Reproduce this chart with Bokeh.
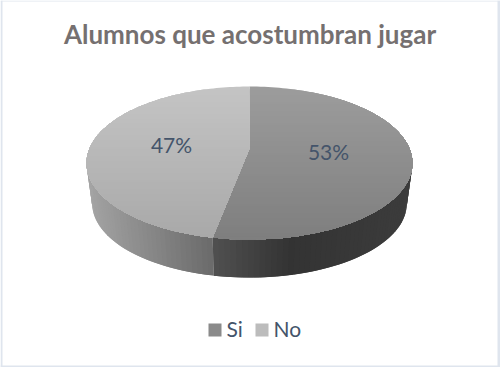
import math
from bokeh.plotting import figure
from bokeh.core.properties import value
from bokeh.embed import file_html
from bokeh.resources import INLINE

title = "Alumnos que acostumbran jugar"
categories = ["Si", "No"]
values = [53, 47]
labels = ["53%", "47%"]
label_x = [328, 171]
label_y = [151, 144]
top_colors = [((0x9c, 0x9c, 0x9c), (0x7e, 0x7e, 0x7e)), ((0xc4, 0xc4, 0xc4), (0xa8, 0xa8, 0xa8))]
legend_colors = ["#8a8a8a", "#bcbcbc"]
text_color = "#44546a"
title_color = "#757070"

# pie geometry in page pixels
CX, APEX_Y, R, S, A = 249.0, 148.0, 160.0, 73.75, 0.19
BASE_SCALE, BASE_APEX_Y = 0.965, 189.2


def top_pt(phi):
    u, v = math.sin(phi), math.cos(phi)
    w = 1 + A * v
    return CX + R * u / w, APEX_Y - S * v / w


def base_pt(phi):
    u, v = math.sin(phi), math.cos(phi)
    w = 1 + A * v
    return CX + BASE_SCALE * R * u / w, BASE_APEX_Y - BASE_SCALE * S * v / w


def lerp(c0, c1, t):
    return tuple(round(a + (b - a) * t) for a, b in zip(c0, c1))


def hexc(c):
    return "#%02x%02x%02x" % c


def clip_below(poly, y0):
    """Keep the part of a polygon with y >= y0."""
    out = []
    for i, (x1, y1) in enumerate(poly):
        x2, y2 = poly[(i + 1) % len(poly)]
        if y1 >= y0:
            out.append((x1, y1))
        if (y1 >= y0) != (y2 >= y0):
            t = (y0 - y1) / (y2 - y1)
            out.append((x1 + (x2 - x1) * t, y0))
    return out


p = figure(width=500, height=367, x_range=(0, 500), y_range=(367, 0),
           output_backend="svg", toolbar_location=None, min_border=0,
           outline_line_color=None, background_fill_color="white")
p.axis.visible = False
p.grid.visible = False

total = sum(values)
split = 2 * math.pi * values[0] / total

# side wall
SIDE_STOPS = [(86, (0xa4, 0xa4, 0xa4)), (213, (0x6a, 0x6a, 0x6a))]
SIDE_STOPS_R = [(213, (0x50, 0x50, 0x50)), (290, (0x33, 0x33, 0x33)), (412, (0x3c, 0x3c, 0x3c))]


def side_color(x, phi):
    stops = SIDE_STOPS_R if phi < split else SIDE_STOPS
    if x <= stops[0][0]:
        return stops[0][1]
    for (x0, c0), (x1, c1) in zip(stops, stops[1:]):
        if x <= x1:
            return lerp(c0, c1, (x - x0) / (x1 - x0))
    return stops[-1][1]


phi_start = math.acos(-A) - 0.12
phi_end = 2 * math.pi - phi_start
sx, sy, sc = [], [], []
for lo, hi in ((phi_start, split), (split, phi_end)):
    n = max(4, round((hi - lo) / 0.03))
    for i in range(n):
        a = lo + (hi - lo) * i / n
        b = lo + (hi - lo) * min(i + 2, n) / n  # overlaps the next quad: no seams
        mid = lo + (hi - lo) * (i + 0.5) / n
        xa, ya = top_pt(a)
        xb, yb = top_pt(b)
        xc, yc = base_pt(b)
        xd, yd = base_pt(a)
        sx.append([xa, xb, xc, xd])
        sy.append([ya, yb, yc, yd])
        sc.append(hexc(side_color(top_pt(mid)[0], mid)))
p.patches(sx, sy, fill_color=sc, line_color=None)

# top face, painted as nested bands for a vertical gradient
start = 0.0
band_x, band_y, band_c = [], [], []
for val, (c0, c1) in zip(values, top_colors):
    end = start + 2 * math.pi * val / total
    steps = 120
    poly = [(CX, APEX_Y)] + [top_pt(start + (end - start) * j / steps) for j in range(steps + 1)]
    y = 86.0
    while y < 240:
        part = clip_below(poly, y)
        if len(part) >= 3:
            band_x.append([q[0] for q in part])
            band_y.append([q[1] for q in part])
            band_c.append(hexc(lerp(c0, c1, (y - 86) / 153)))
        y += 3
    start = end
p.patches(band_x, band_y, fill_color=band_c, line_color=None)

# frame edge on all four sides
p.quad(left=[0, 0, 497, 0], right=[500, 2, 500, 500], top=[0, 0, 0, 365], bottom=[1, 367, 367, 367],
       fill_color="#dfe5ee", line_color=None)

# texts
p.text([249.5], [33], text=[title], text_font=value("Lato"), text_font_style="bold",
       text_font_size="26px", text_color=title_color, text_align="center", text_baseline="middle")
p.text(label_x, label_y, text=labels, text_font=value("Lato"), text_font_size="21px",
       text_color=text_color, text_align="center", text_baseline="middle")

# legend
p.rect([214.5, 261.5], [329.5, 329.5], width=13, height=13, fill_color=legend_colors, line_color=None)
p.text([226, 273], [327.5, 327.5], text=categories, text_font=value("Lato"), text_font_size="21px",
       text_color=text_color, text_align="left", text_baseline="middle")

open("out.html", "w").write(file_html(p, INLINE))
